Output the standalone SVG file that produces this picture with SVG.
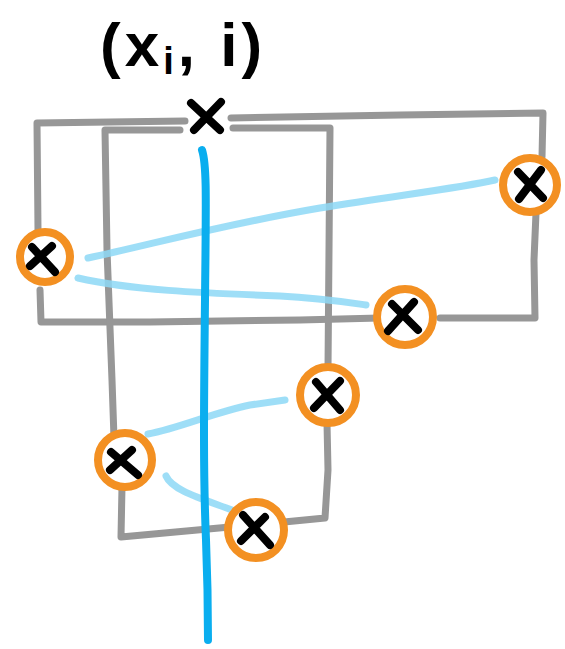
<svg xmlns="http://www.w3.org/2000/svg" width="565" height="649" viewBox="0 0 565 649">
<style>
.g{fill:none;stroke:#979797;stroke-width:7;stroke-linecap:round;stroke-linejoin:round}
.lb{fill:none;stroke:#8dd8f6;stroke-opacity:0.85;stroke-width:7;stroke-linecap:round;stroke-linejoin:round}
.blue{fill:none;stroke:#0aaeef;stroke-width:8;stroke-linecap:round}
.c{fill:#fff;stroke:#f39022;stroke-width:8}
.x{stroke:#000;stroke-width:8;stroke-linecap:round}
.lbl{font-family:"Liberation Sans",Arial,sans-serif;font-weight:bold;fill:#000}
</style>
<rect width="565" height="649" fill="#fff"/>
<g id="label">
<text class="lbl" x="100" y="66" font-size="62" letter-spacing="4">(x<tspan font-size="38" dy="8">i</tspan><tspan dy="-8">, i)</tspan></text>
</g>
<g id="boxes">
<path class="g" d="M185,121 L110,122 L37,123 L38,230"/>
<path class="g" d="M40,290 L41,322 L150,322 L300,320 L380,318"/>
<path class="g" d="M231,118 L400,115 L543,113 L542,157"/>
<path class="g" d="M536,213 L534,260 L535,318 L440,318"/>
<path class="g" d="M180,130 L105,130 L107,250 L112,380 L114,438"/>
<path class="g" d="M122,487 L121,537 L230,527"/>
<path class="g" d="M233,128 L330,128 L329,250 L328,368"/>
<path class="g" d="M327,423 L328,470 L325,518 L284,522"/>
</g>
<g id="connectors">
<path class="lb" d="M88,258 C150,245 220,225 320,208 C400,195 460,188 495,180"/>
<path class="lb" d="M78,278 C130,290 200,293 280,296 C320,298 345,302 366,305"/>
<path class="lb" d="M148,434 C180,428 215,412 250,405 L285,400"/>
<path class="lb" d="M166,476 C172,490 200,498 232,510"/>
<path class="blue" d="M202,150 C207,165 206,200 205,300 C204,400 203,470 206,540 C208,590 208,620 208,640"/>
</g>
<g id="top-point"><path class="x" d="M191,103 L220,130 M221,102 L194,130"/></g>
<g id="n1"><circle class="c" cx="45" cy="257" r="25"/><path class="x" d="M32,247 L55,272 M52,246 L30,266"/></g>
<g id="n2"><circle class="c" cx="530" cy="185" r="27"/><path class="x" d="M518,172 L543,198 M541,170 L519,199"/></g>
<g id="n3"><circle class="c" cx="405" cy="317" r="28"/><path class="x" d="M392,304 L418,330 M414,302 L388,331"/></g>
<g id="n4"><circle class="c" cx="328" cy="395" r="28"/><path class="x" d="M316,382 L340,410 M340,381 L314,408"/></g>
<g id="n5"><circle class="c" cx="125" cy="460" r="27"/><path class="x" d="M111,452 L138,475 M132,450 L110,470"/></g>
<g id="n6"><circle class="c" cx="256" cy="530" r="28"/><path class="x" d="M243,515 L270,545 M265,517 L241,541"/></g>
</svg>
